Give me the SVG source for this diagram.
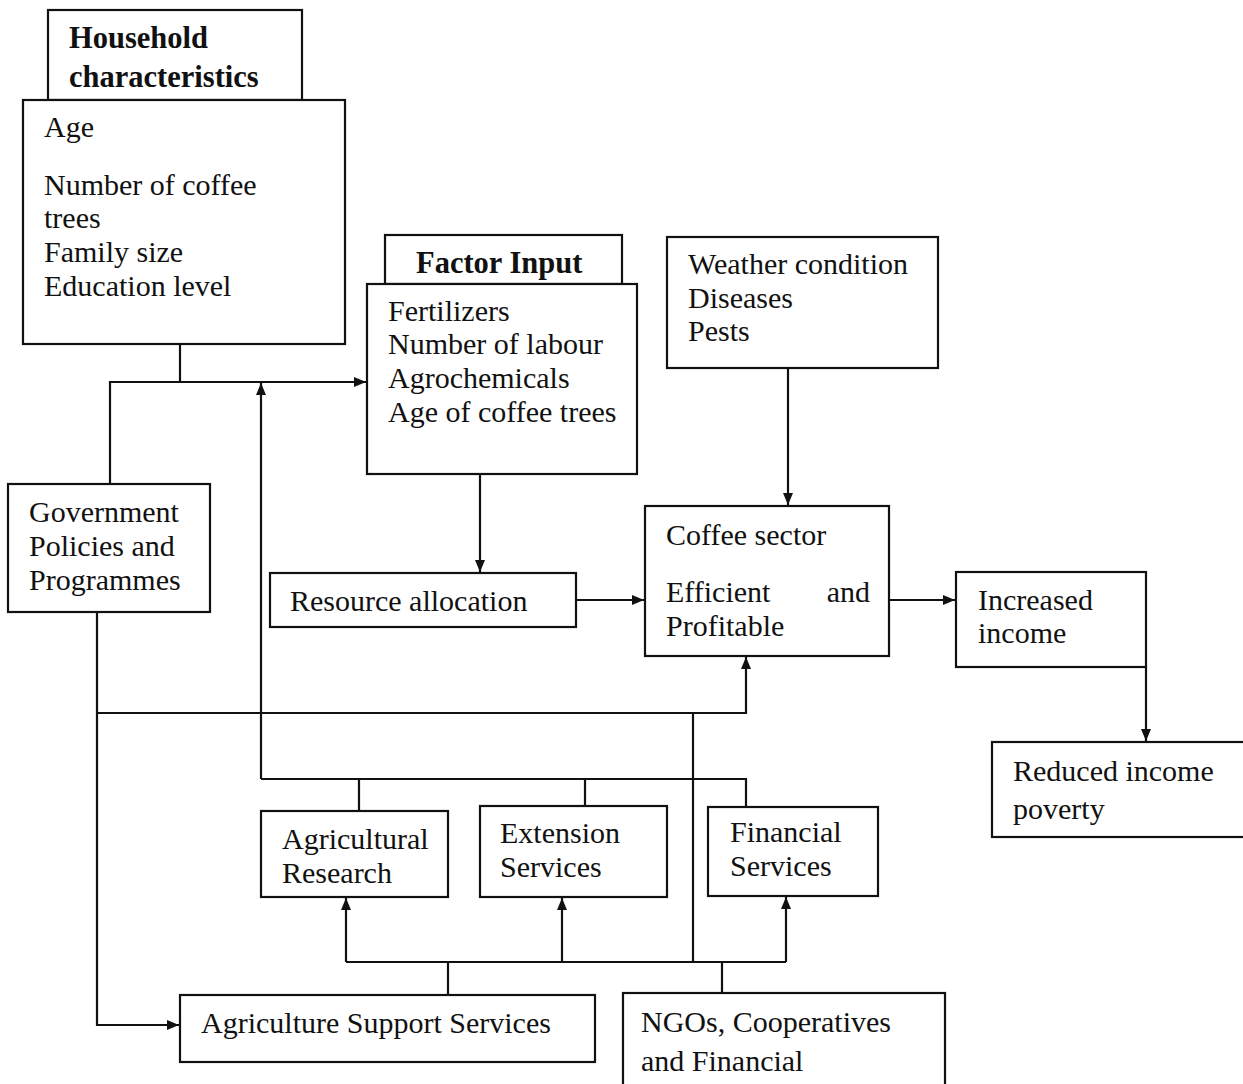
<svg xmlns="http://www.w3.org/2000/svg" width="1243" height="1084" viewBox="0 0 1243 1084">
<style>
.box{fill:#fff;stroke:#111;stroke-width:2.2}
.t{font-family:"Liberation Serif","Times New Roman",serif;font-size:30px;fill:#111}
.b{font-weight:bold;font-size:30.5px}
.c{fill:none;stroke:#111;stroke-width:2.2}
</style>
<defs>
<marker id="ah" markerUnits="userSpaceOnUse" markerWidth="14" markerHeight="12" refX="12" refY="5" orient="auto">
<path d="M0,0 L12,5 L0,10 Z" fill="#111"/>
</marker>
</defs>
<rect width="1243" height="1084" fill="#fff"/>
<g id="connectors">
<path class="c" d="M180,344 V382"/>
<path class="c" d="M110,484 V382 H366" marker-end="url(#ah)"/>
<path class="c" d="M261,779 V383" marker-end="url(#ah)"/>
<path class="c" d="M480,474 V572" marker-end="url(#ah)"/>
<path class="c" d="M788,368 V505" marker-end="url(#ah)"/>
<path class="c" d="M576,600 H644" marker-end="url(#ah)"/>
<path class="c" d="M889,600 H955" marker-end="url(#ah)"/>
<path class="c" d="M1146,667 V741" marker-end="url(#ah)"/>
<path class="c" d="M97,612 V1025 H179" marker-end="url(#ah)"/>
<path class="c" d="M97,713 H746 V657" marker-end="url(#ah)"/>
<path class="c" d="M693,713 V962"/>
<path class="c" d="M261,779 H746 V808"/>
<path class="c" d="M359,779 V811"/>
<path class="c" d="M585,779 V806"/>
<path class="c" d="M346,962 H786"/>
<path class="c" d="M346,962 V898" marker-end="url(#ah)"/>
<path class="c" d="M562,962 V898" marker-end="url(#ah)"/>
<path class="c" d="M786,962 V897" marker-end="url(#ah)"/>
<path class="c" d="M448,962 V995"/>
<path class="c" d="M722,962 V993"/>
</g>
<g id="household-title">
<rect class="box" x="48" y="10" width="254" height="90"/>
<text class="t b" x="69" y="48">Household</text>
<text class="t b" x="69" y="87">characteristics</text>
</g>
<g id="household">
<rect class="box" x="23" y="100" width="322" height="244"/>
<text class="t" x="44" y="137">Age</text>
<text class="t" x="44" y="195">Number of coffee</text>
<text class="t" x="44" y="228">trees</text>
<text class="t" x="44" y="262">Family size</text>
<text class="t" x="44" y="296">Education level</text>
</g>
<g id="factor-title">
<rect class="box" x="385" y="235" width="237" height="49"/>
<text class="t b" x="416" y="273">Factor Input</text>
</g>
<g id="factor-input">
<rect class="box" x="367" y="284" width="270" height="190"/>
<text class="t" x="388" y="321">Fertilizers</text>
<text class="t" x="388" y="354">Number of labour</text>
<text class="t" x="388" y="388">Agrochemicals</text>
<text class="t" x="388" y="422">Age of coffee trees</text>
</g>
<g id="weather">
<rect class="box" x="667" y="237" width="271" height="131"/>
<text class="t" x="688" y="274">Weather condition</text>
<text class="t" x="688" y="308">Diseases</text>
<text class="t" x="688" y="341">Pests</text>
</g>
<g id="government">
<rect class="box" x="8" y="484" width="202" height="128"/>
<text class="t" x="29" y="522">Government</text>
<text class="t" x="29" y="556">Policies and</text>
<text class="t" x="29" y="590">Programmes</text>
</g>
<g id="coffee-sector">
<rect class="box" x="645" y="506" width="244" height="150"/>
<text class="t" x="666" y="545">Coffee sector</text>
<text class="t" y="602"><tspan x="666">Efficient</tspan><tspan x="870" text-anchor="end">and</tspan></text>
<text class="t" x="666" y="636">Profitable</text>
</g>
<g id="resource-allocation">
<rect class="box" x="270" y="573" width="306" height="54"/>
<text class="t" x="290" y="611">Resource allocation</text>
</g>
<g id="increased-income">
<rect class="box" x="956" y="572" width="190" height="95"/>
<text class="t" x="978" y="610">Increased</text>
<text class="t" x="978" y="643">income</text>
</g>
<g id="reduced-poverty">
<rect class="box" x="992" y="742" width="260" height="95"/>
<text class="t" x="1013" y="781">Reduced income</text>
<text class="t" x="1013" y="819">poverty</text>
</g>
<g id="agricultural-research">
<rect class="box" x="261" y="811" width="187" height="86"/>
<text class="t" x="282" y="849">Agricultural</text>
<text class="t" x="282" y="883">Research</text>
</g>
<g id="extension-services">
<rect class="box" x="480" y="806" width="187" height="91"/>
<text class="t" x="500" y="843">Extension</text>
<text class="t" x="500" y="877">Services</text>
</g>
<g id="financial-services">
<rect class="box" x="708" y="807" width="170" height="89"/>
<text class="t" x="730" y="842">Financial</text>
<text class="t" x="730" y="876">Services</text>
</g>
<g id="agriculture-support">
<rect class="box" x="180" y="995" width="415" height="67"/>
<text class="t" x="201" y="1033">Agriculture Support Services</text>
</g>
<g id="ngos">
<rect class="box" x="623" y="993" width="322" height="110"/>
<text class="t" x="641" y="1032">NGOs, Cooperatives</text>
<text class="t" x="641" y="1071">and Financial</text>
</g>
</svg>
